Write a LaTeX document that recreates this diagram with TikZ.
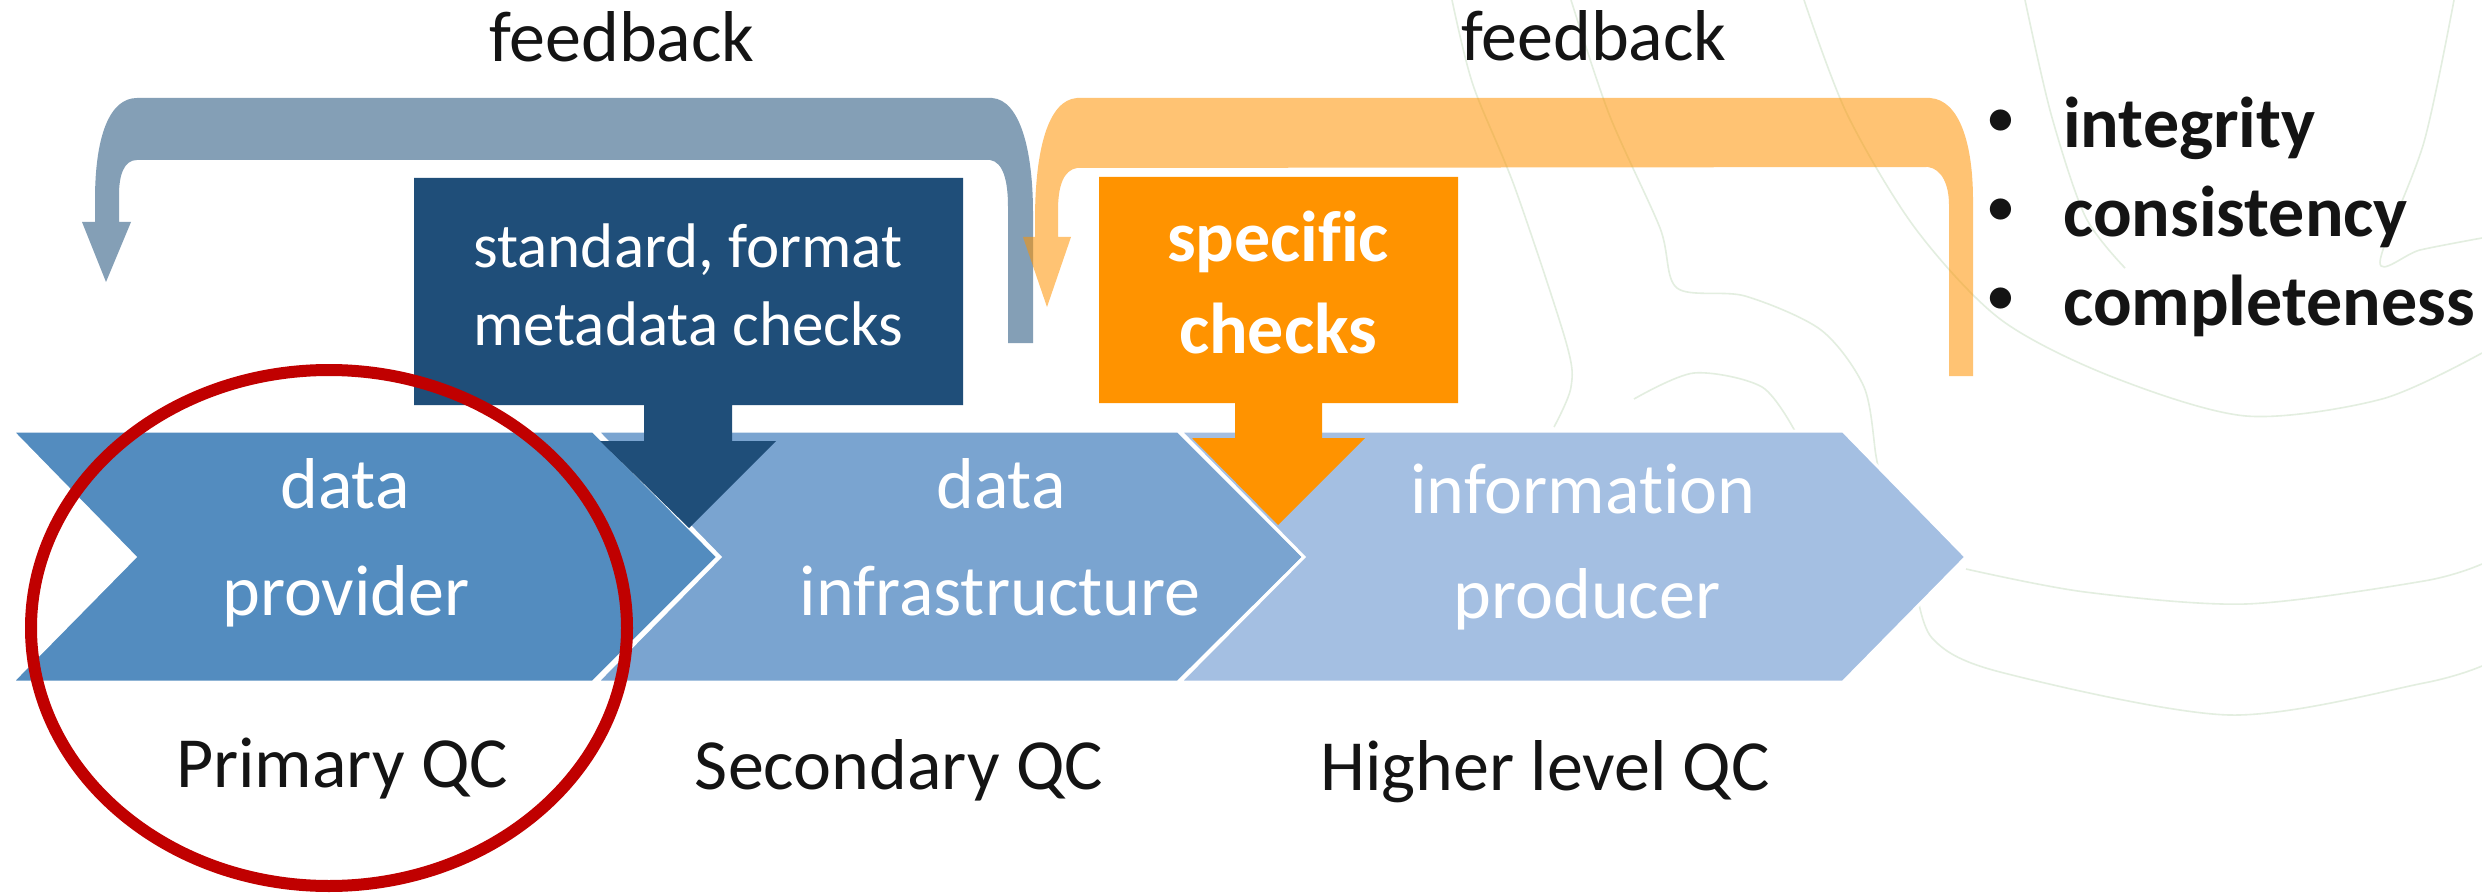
\documentclass[tikz,border=0pt]{standalone}
\usepackage{fontspec}
\setmainfont{Carlito}[Ligatures=NoCommon]
\definecolor{provblue}{HTML}{538CBF}
\definecolor{infrablue}{HTML}{7AA4D0}
\definecolor{prodblue}{HTML}{A4BFE2}
\definecolor{boxnavy}{HTML}{1F4E79}
\definecolor{boxorange}{HTML}{FF9300}
\definecolor{loopgray}{HTML}{849FB6}
\definecolor{ringred}{HTML}{C00000}
\definecolor{sketchgreen}{HTML}{E3EEE0}
\definecolor{inkblack}{HTML}{141414}
\begin{document}
\begin{tikzpicture}[x=1pt,y=-1pt,
  lbl/.style={inner sep=0pt, anchor=base, text=inkblack, font=\fontsize{72}{86}\selectfont},
  whitelbl/.style={lbl, text=white},
  boxlbl/.style={inner sep=0pt, anchor=base, text=white, font=\fontsize{63}{76}\selectfont},
  boldwhite/.style={inner sep=0pt, anchor=base, text=white, font=\fontsize{72}{86}\selectfont\bfseries},
  bulletlbl/.style={inner sep=0pt, anchor=base west, text=inkblack, font=\fontsize{72}{86}\selectfont\bfseries},
  bulletdot/.style={inner sep=0pt, anchor=center, text=inkblack, font=\fontsize{50}{60}\selectfont\bfseries},
  chevron/.style={draw=white, line width=3pt, line join=miter},
  sketch/.style={draw=sketchgreen, line width=1.6pt}]
\useasboundingbox (0,0) rectangle (2482,893);
\fill[white] (0,0) rectangle (2482,893);

% faint line-art in the background
\draw[sketch] plot[smooth] coordinates {(1452,0) (1473,85) (1515,188) (1566,342) (1571,387) (1554,427)};
\draw[sketch] plot[smooth] coordinates {(1571,0) (1609,114) (1660,228) (1677,288) (1745,296) (1821,330) (1864,387) (1876,456) (1881,480)};
\draw[sketch] plot[smooth] coordinates {(1804,0) (1847,114) (1915,228) (2000,319) (2110,376) (2246,416) (2382,399) (2482,353)};
\draw[sketch] plot[smooth] coordinates {(2025,0) (2051,114) (2085,216) (2125,268)};
\draw[sketch] plot[smooth] coordinates {(2454,0) (2424,142) (2380,262) (2420,250) (2482,238)};
\draw[sketch] plot[smooth] coordinates {(1915,581) (1932,638) (2000,672) (2229,715) (2424,683) (2482,666)};
\draw[sketch] plot[smooth] coordinates {(1966,569) (2085,592) (2246,604) (2424,581) (2482,564)};
\draw[sketch] plot[smooth] coordinates {(1634,399) (1694,373) (1762,387) (1796,433)};

% feedback loop back to the data provider
\fill[loopgray] (82,222) -- (95,222) -- (95,200)
  .. controls (95,135) and (110,98) .. (137,98) -- (992,98)
  .. controls (1020,100) and (1033,150) .. (1033,213) -- (1033,343) -- (1008,343) -- (1008,207)
  .. controls (1008,180) and (1003,162) .. (990,160) -- (137,160)
  .. controls (124,160) and (119,175) .. (119,195) -- (119,222) -- (131,222) -- (106,282) -- cycle;

% process chevrons
\path[chevron, fill=provblue] (12,431) -- (593,431) -- (718,557) -- (593,682) -- (12,682) -- (135,557) -- cycle;
\path[chevron, fill=infrablue] (597,431) -- (1178,431) -- (1304,557) -- (1178,682) -- (597,682) -- (720,557) -- cycle;
\path[chevron, fill=prodblue] (1180,431) -- (1843,431) -- (1966,557) -- (1843,682) -- (1180,682) -- (1304,557) -- cycle;

% check callouts pointing into the chain
\fill[boxnavy] (414,178) -- (963,178) -- (963,405) -- (732,405) -- (732,441) -- (776,441)
  -- (689,528) -- (600,441) -- (644,441) -- (644,405) -- (414,405) -- cycle;
\fill[boxorange] (1099,177) -- (1458,177) -- (1458,403) -- (1322,403) -- (1322,438) -- (1365,438)
  -- (1278,525) -- (1192,438) -- (1235,438) -- (1235,403) -- (1099,403) -- cycle;

% feedback loop back to the data infrastructure
\fill[boxorange, fill opacity=0.55] (1023,237) -- (1035,237) -- (1035,220)
  .. controls (1035,150) and (1048,100) .. (1077,98) -- (1930,98)
  .. controls (1960,100) and (1973,145) .. (1973,200) -- (1973,376) -- (1949,376) -- (1949,205)
  .. controls (1949,185) and (1942,169) .. (1928,167) -- (1077,168)
  .. controls (1064,170) and (1058,185) .. (1058,210) -- (1058,237) -- (1071,237) -- (1047,307) -- cycle;

% highlight ring
\draw[ringred, line width=12pt] (329,628) ellipse [x radius=298, y radius=258];

% labels
\node[lbl] (fbleft) at (622,62) {feedback};
\node[lbl] (fbright) at (1594,61) {feedback};

\node[boxlbl] (stdA) at (688,268) {standard, format};
\node[boxlbl] (stdB) at (688,345) {metadata checks};
\node[boldwhite] (specA) at (1278,262) {specific};
\node[boldwhite] (specB) at (1278,353) {checks};

\node[whitelbl] (provA) at (345,508) {data};
\node[whitelbl] (provB) at (346,615) {provider};
\node[whitelbl] (infraA) at (1001,508) {data};
\node[whitelbl] (infraB) at (1000,615) {infrastructure};
\node[whitelbl] (prodA) at (1583,513) {information};
\node[whitelbl] (prodB) at (1587,618) {producer};

\node[lbl] (qcA) at (342,787) {Primary QC};
\node[lbl] (qcB) at (899,789) {Secondary QC};
\node[lbl] (qcC) at (1545,790) {Higher level QC};

\node[bulletdot] (dotA) at (2001,122) {•};
\node[bulletdot] (dotB) at (2001,211) {•};
\node[bulletdot] (dotC) at (2001,300) {•};
\node[bulletlbl] (itemA) at (2063,148) {integrity};
\node[bulletlbl] (itemB) at (2063,237) {consistency};
\node[bulletlbl] (itemC) at (2063,326) {completeness};
\end{tikzpicture}
\end{document}
